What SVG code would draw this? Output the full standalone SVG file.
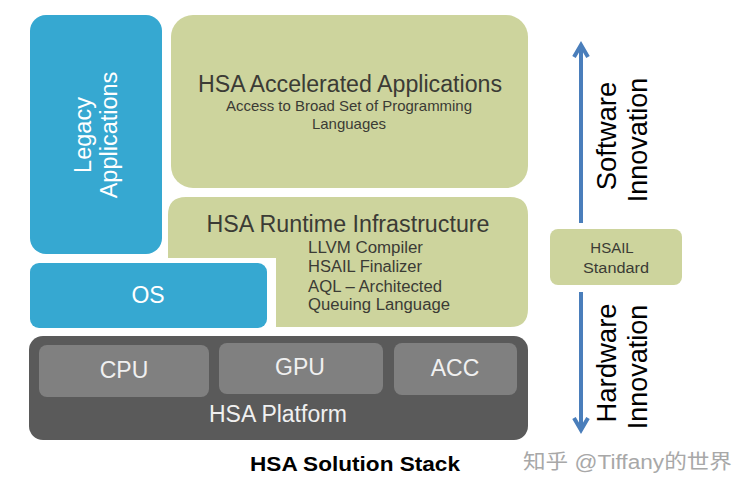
<svg xmlns="http://www.w3.org/2000/svg" width="752" height="495" viewBox="0 0 752 495">
<style>
.blue{fill:#36a8d1}
.green{fill:#cdd49d}
.plat{fill:#5a5a5a}
.chip{fill:#808080}
.t{font-family:"Liberation Sans",Arial,sans-serif}
.dark{fill:#3b3b35}
.white{fill:#ffffff}
.light{fill:#f0f0f0}
.arrow{stroke:#4a7ebb;stroke-width:4;fill:none}
</style>
<rect width="752" height="495" fill="#ffffff"/>
<g id="legacy">
<rect class="blue" x="30" y="15" width="132" height="239" rx="16"/>
<text class="t white" font-size="23.5" text-anchor="middle" transform="translate(91,135) rotate(-90)">Legacy</text>
<text class="t white" font-size="23.5" text-anchor="middle" transform="translate(117,135) rotate(-90)">Applications</text>
</g>
<g id="accelerated">
<rect class="green" x="171" y="15" width="357" height="173" rx="22"/>
<text class="t dark" font-size="23" text-anchor="middle" x="350" y="92" textLength="304" lengthAdjust="spacingAndGlyphs">HSA Accelerated Applications</text>
<text class="t dark" font-size="15" text-anchor="middle" x="349" y="111" textLength="246" lengthAdjust="spacingAndGlyphs">Access to Broad Set of Programming</text>
<text class="t dark" font-size="15" text-anchor="middle" x="349" y="129">Languages</text>
</g>
<g id="runtime">
<path class="green" d="M186,197 H510 Q528,197 528,215 V309 Q528,327 510,327 H276 V258 H168 V215 Q168,197 186,197 Z"/>
<text class="t dark" font-size="23" text-anchor="middle" x="348" y="232" textLength="283" lengthAdjust="spacingAndGlyphs">HSA Runtime Infrastructure</text>
<text class="t dark" font-size="16" x="308" y="253" textLength="115" lengthAdjust="spacingAndGlyphs">LLVM Compiler</text>
<text class="t dark" font-size="16" x="308" y="272" textLength="114" lengthAdjust="spacingAndGlyphs">HSAIL Finalizer</text>
<text class="t dark" font-size="16" x="308" y="292" textLength="134" lengthAdjust="spacingAndGlyphs">AQL – Architected</text>
<text class="t dark" font-size="16" x="308" y="310" textLength="142" lengthAdjust="spacingAndGlyphs">Queuing Language</text>
</g>
<g id="os">
<rect class="blue" x="30" y="263" width="237" height="65" rx="9"/>
<text class="t white" font-size="23" text-anchor="middle" x="148" y="303">OS</text>
</g>
<g id="platform">
<rect class="plat" x="29" y="336" width="499" height="104" rx="14"/>
<text class="t light" font-size="23" text-anchor="middle" x="278" y="422">HSA Platform</text>
</g>
<g id="cpu">
<rect class="chip" x="39" y="345" width="170" height="52" rx="8"/>
<text class="t light" font-size="23" text-anchor="middle" x="124" y="378">CPU</text>
</g>
<g id="gpu">
<rect class="chip" x="219" y="343" width="164" height="51" rx="8"/>
<text class="t light" font-size="23" text-anchor="middle" x="300" y="375">GPU</text>
</g>
<g id="acc">
<rect class="chip" x="394" y="343" width="123" height="52" rx="8"/>
<text class="t light" font-size="23" text-anchor="middle" x="455" y="376">ACC</text>
</g>
<g id="hsail">
<rect class="green" x="550" y="229" width="132" height="56" rx="8"/>
<text class="t dark" font-size="15" text-anchor="middle" x="612" y="253">HSAIL</text>
<text class="t dark" font-size="15.5" text-anchor="middle" x="616" y="273" textLength="66" lengthAdjust="spacingAndGlyphs">Standard</text>
</g>
<g id="connectors">
<line class="arrow" x1="581" y1="223" x2="581" y2="45"/>
<polyline class="arrow" points="574,57 581,45 588,57"/>
<line class="arrow" x1="581" y1="292" x2="581" y2="430"/>
<polyline class="arrow" points="574,418 581,430 588,418"/>
</g>
<g id="labels">
<text class="t" fill="#000" font-size="27.5" text-anchor="middle" transform="translate(616,136) rotate(-90)">Software</text>
<text class="t" fill="#000" font-size="27" text-anchor="middle" transform="translate(647,140) rotate(-90)">Innovation</text>
<text class="t" fill="#000" font-size="27.5" text-anchor="middle" transform="translate(616,363) rotate(-90)">Hardware</text>
<text class="t" fill="#000" font-size="27" text-anchor="middle" transform="translate(647,367) rotate(-90)">Innovation</text>
<text class="t" fill="#000" font-size="20" font-weight="bold" text-anchor="middle" x="355" y="471" textLength="210" lengthAdjust="spacingAndGlyphs">HSA Solution Stack</text>
<text fill="#a8a8a8" font-size="20" x="523" y="469" textLength="209" lengthAdjust="spacingAndGlyphs" font-family="'Liberation Sans','Noto Sans CJK SC',sans-serif">知乎 @Tiffany的世界</text>
</g>
</svg>
